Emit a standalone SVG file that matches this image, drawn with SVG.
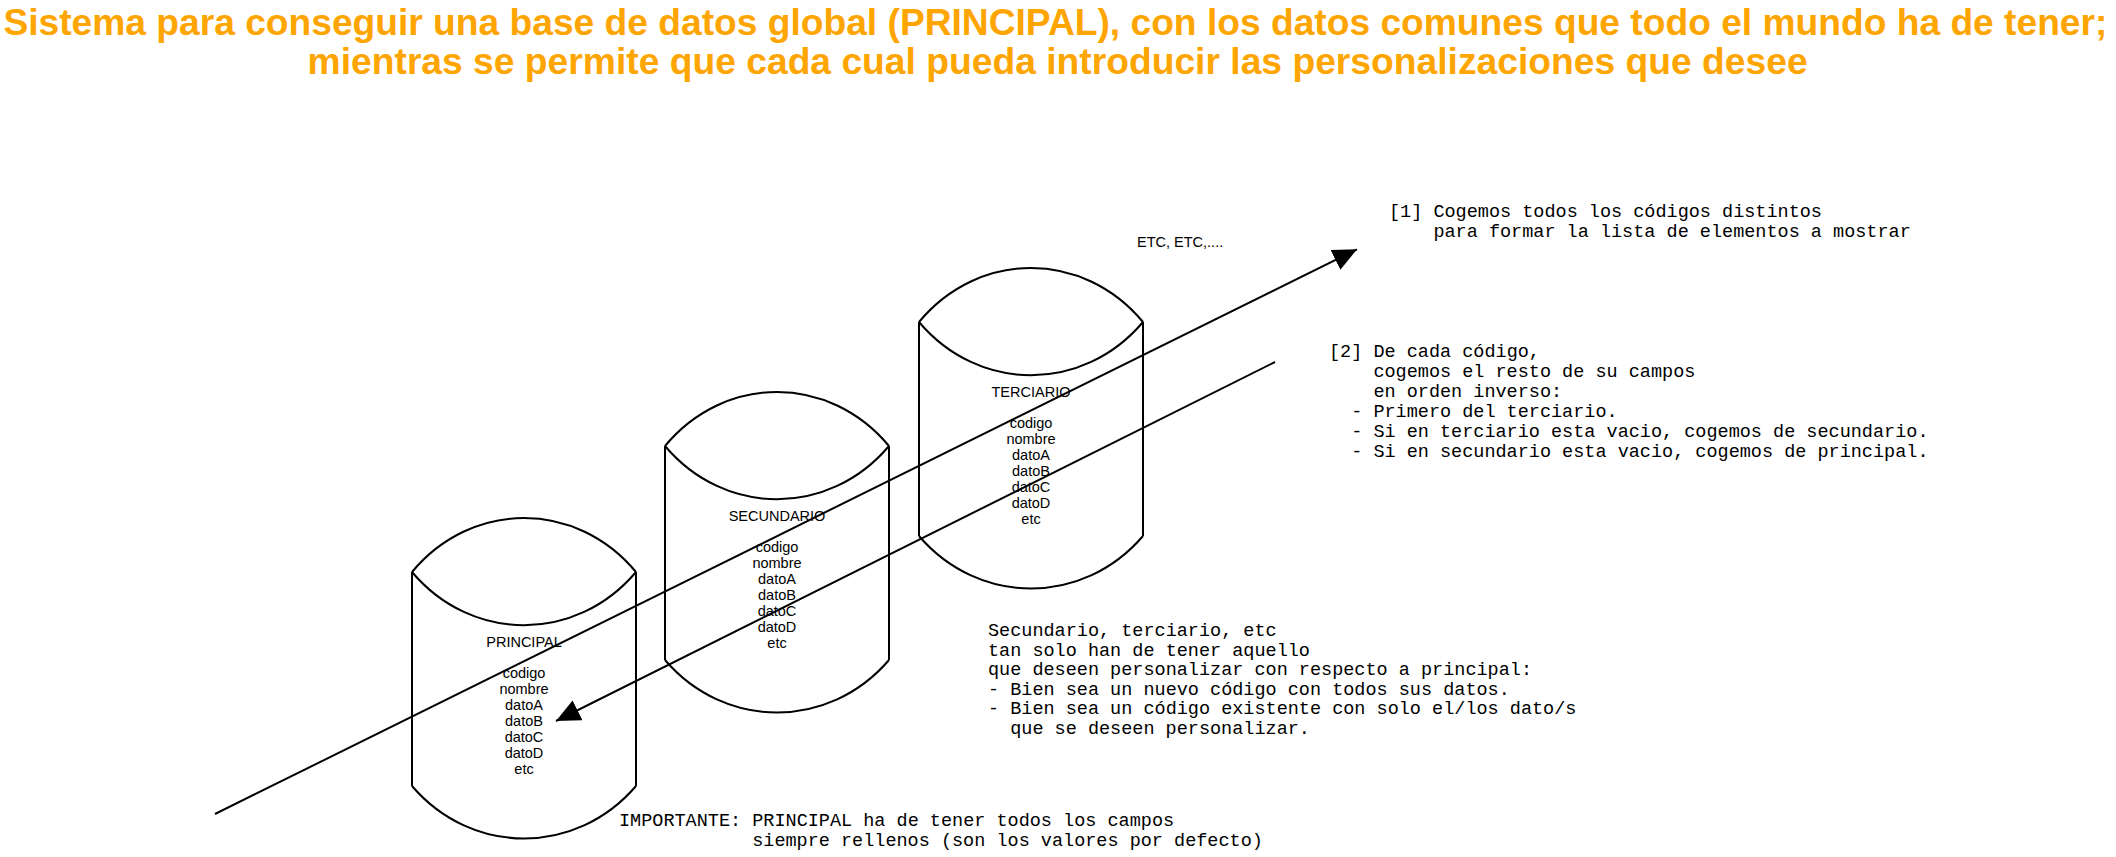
<svg xmlns="http://www.w3.org/2000/svg" width="2116" height="857" viewBox="0 0 2116 857">
<style>
.title{font-family:"Liberation Sans",Arial,sans-serif;font-weight:bold;font-size:37px;fill:#FFA500}
.cyl{fill:none;stroke:#000;stroke-width:2}
.lbl{font-family:"Liberation Sans",Arial,sans-serif;font-size:14.5px;fill:#000;text-anchor:middle}
.note{font-family:"Liberation Sans",Arial,sans-serif;font-size:14.5px;fill:#000}
.mono{font-family:"Liberation Mono","Courier New",monospace;font-size:18.5px;fill:#000}
.conn{fill:none;stroke:#000;stroke-width:2}
</style>
<defs>
<marker id="ah" markerUnits="userSpaceOnUse" markerWidth="25" markerHeight="22" viewBox="0 0 25 22" refX="24" refY="11" orient="auto">
<path d="M0,0 L24,11 L0,22 z" fill="#000"/>
</marker>
<g id="cylShape">
<path class="cyl" d="M0,0 C60,-72 164,-72 224,0 M0,0 C60,71 164,71 224,0 M0,0 V214 M224,0 V214 M0,214 C60,284 164,284 224,214"/>
</g>
</defs>
<rect x="0" y="0" width="2116" height="857" fill="#fff"/>
<g id="title">
<text class="title" x="3.4" y="35" textLength="2104" lengthAdjust="spacingAndGlyphs">Sistema para conseguir una base de datos global (PRINCIPAL), con los datos comunes que todo el mundo ha de tener;</text>
<text class="title" x="307.6" y="74" textLength="1500" lengthAdjust="spacingAndGlyphs">mientras se permite que cada cual pueda introducir las personalizaciones que desee</text>
</g>
<g id="principal" transform="translate(412,572)">
<use href="#cylShape"/>
<text class="lbl" x="112" y="75">PRINCIPAL</text>
<text class="lbl" x="112" y="106">codigo</text>
<text class="lbl" x="112" y="122">nombre</text>
<text class="lbl" x="112" y="138">datoA</text>
<text class="lbl" x="112" y="154">datoB</text>
<text class="lbl" x="112" y="170">datoC</text>
<text class="lbl" x="112" y="186">datoD</text>
<text class="lbl" x="112" y="202">etc</text>
</g>
<g id="secundario" transform="translate(665,446)">
<use href="#cylShape"/>
<text class="lbl" x="112" y="75">SECUNDARIO</text>
<text class="lbl" x="112" y="106">codigo</text>
<text class="lbl" x="112" y="122">nombre</text>
<text class="lbl" x="112" y="138">datoA</text>
<text class="lbl" x="112" y="154">datoB</text>
<text class="lbl" x="112" y="170">datoC</text>
<text class="lbl" x="112" y="186">datoD</text>
<text class="lbl" x="112" y="202">etc</text>
</g>
<g id="terciario" transform="translate(919,322)">
<use href="#cylShape"/>
<text class="lbl" x="112" y="75">TERCIARIO</text>
<text class="lbl" x="112" y="106">codigo</text>
<text class="lbl" x="112" y="122">nombre</text>
<text class="lbl" x="112" y="138">datoA</text>
<text class="lbl" x="112" y="154">datoB</text>
<text class="lbl" x="112" y="170">datoC</text>
<text class="lbl" x="112" y="186">datoD</text>
<text class="lbl" x="112" y="202">etc</text>
</g>
<g id="connectors">
<line class="conn" x1="215" y1="814" x2="1357" y2="249.3" marker-end="url(#ah)"/>
<line class="conn" x1="1275" y1="362" x2="556" y2="721" marker-end="url(#ah)"/>
</g>
<g id="etc-note">
<text class="note" x="1137" y="247">ETC, ETC,....</text>
</g>
<g id="note1">
<text class="mono" x="1389" y="216.5">[1] Cogemos todos los códigos distintos</text>
<text class="mono" x="1433.4" y="236.5">para formar la lista de elementos a mostrar</text>
</g>
<g id="note2">
<text class="mono" x="1329" y="356.7">[2] De cada código,</text>
<text class="mono" x="1373.4" y="376.7">cogemos el resto de su campos</text>
<text class="mono" x="1373.4" y="396.7">en orden inverso:</text>
<text class="mono" x="1351.2" y="416.7">- Primero del terciario.</text>
<text class="mono" x="1351.2" y="436.7">- Si en terciario esta vacio, cogemos de secundario.</text>
<text class="mono" x="1351.2" y="456.7">- Si en secundario esta vacio, cogemos de principal.</text>
</g>
<g id="note3">
<text class="mono" x="988" y="636">Secundario, terciario, etc</text>
<text class="mono" x="988" y="655.6">tan solo han de tener aquello</text>
<text class="mono" x="988" y="675.2">que deseen personalizar con respecto a principal:</text>
<text class="mono" x="988" y="694.8">- Bien sea un nuevo código con todos sus datos.</text>
<text class="mono" x="988" y="714.4">- Bien sea un código existente con solo el/los dato/s</text>
<text class="mono" x="1010.2" y="734">que se deseen personalizar.</text>
</g>
<g id="note4">
<text class="mono" x="619" y="826">IMPORTANTE: PRINCIPAL ha de tener todos los campos</text>
<text class="mono" x="752.2" y="846">siempre rellenos (son los valores por defecto)</text>
</g>
</svg>
